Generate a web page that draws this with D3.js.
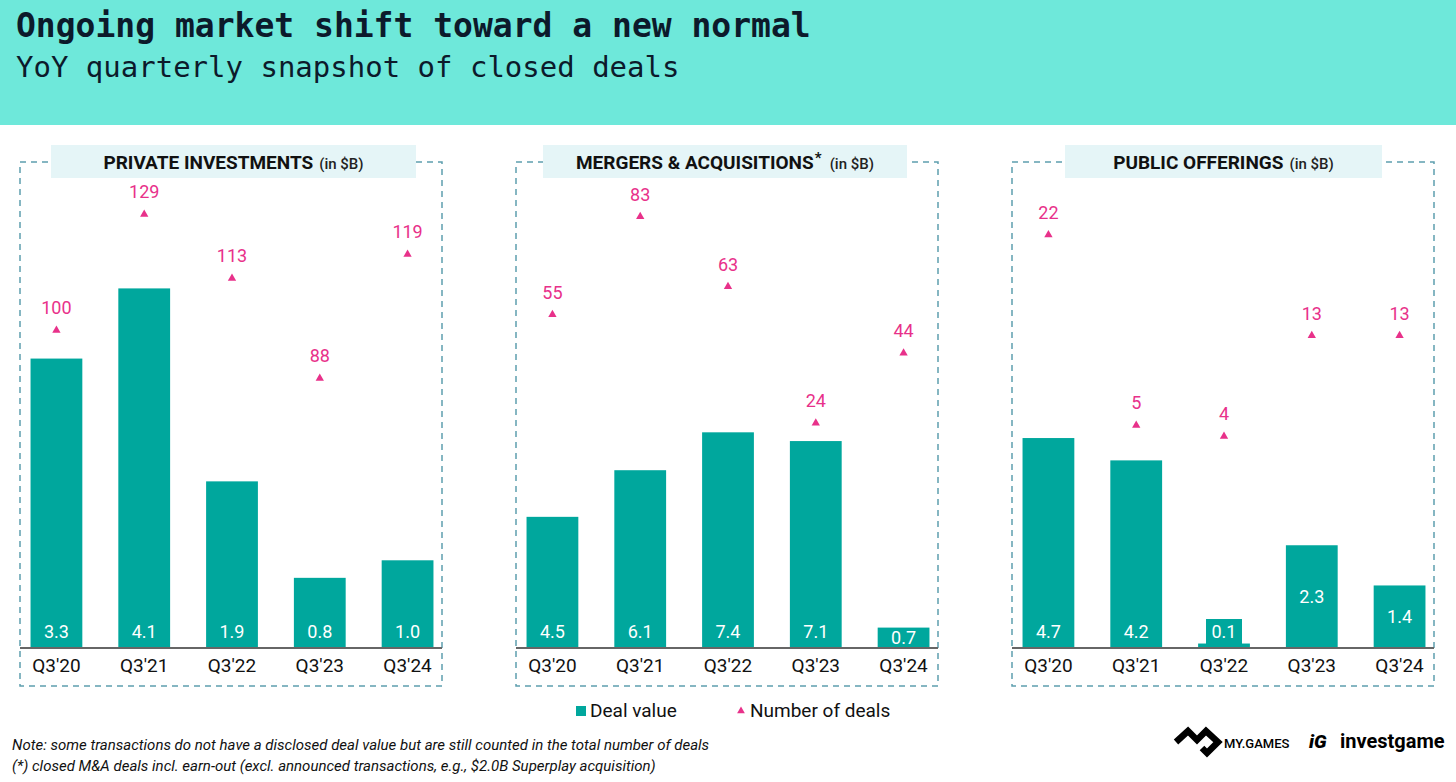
<!DOCTYPE html>
<html lang="en">
<head>
<meta charset="UTF-8">
<title>Ongoing market shift toward a new normal</title>
<style>
  body { margin: 0; background: #fff; }
  svg { display: block; }
</style>
</head>
<body>
<div id="chart"></div>
<script src="https://cdnjs.cloudflare.com/ajax/libs/d3/7.8.5/d3.min.js"></script>
<script>
// ---- data ----
var quarters = ["Q3'20", "Q3'21", "Q3'22", "Q3'23", "Q3'24"];
var panelTitles = ["PRIVATE INVESTMENTS", "MERGERS & ACQUISITIONS", "PUBLIC OFFERINGS"];
var panelStars = [false, true, false];
var privateValue = [3.3, 4.1, 1.9, 0.8, 1.0];
var privateCount = [100, 129, 113, 88, 119];
var maValue = [4.5, 6.1, 7.4, 7.1, 0.7];
var maCount = [55, 83, 63, 24, 44];
var publicValue = [4.7, 4.2, 0.1, 2.3, 1.4];
var publicCount = [22, 5, 4, 13, 13];
// scale domains per panel (each panel has its own implicit axis)
var valueDomains = [[0, 5.45], [0, 16.4], [0, 10.7]];
var countDomains = [[20.6, 140.1], [-40.3, 96.3], [-14.9, 27.8]];
var legendLabels = ["Deal value", "Number of deals"];
var notes = [
  "Note: some transactions do not have a disclosed deal value but are still counted in the total number of deals",
  "(*) closed M&A deals incl. earn-out (excl. announced transactions, e.g., $2.0B Superplay acquisition)"
];

var values = [privateValue, maValue, publicValue];
var counts = [privateCount, maCount, publicCount];

// ---- layout ----
var W = 1456, H = 782;
var TEAL = '#00a79d', PINK = '#e8318a';
var panelLeft = [20, 516, 1012], panelW = 422;
var headerBox = [[31, 396], [27, 391], [53, 370]]; // relative to panel left
var boxTop = 162, boxBottom = 686, axisY = 648, plotTop = 170;
var midLabels = [false, false, true];

var svg = d3.select('#chart').append('svg')
    .attr('width', W)
    .attr('height', H);

// header band
svg.append('rect').attr('width', W).attr('height', 125).attr('fill', '#6ee8da');
svg.append('text')
    .attr('x', 16).attr('y', 37)
    .attr('font-family', 'DejaVu Sans Mono, monospace')
    .attr('font-weight', 'bold')
    .attr('font-size', 33)
    .attr('fill', '#0c1a2b')
    .text('Ongoing market shift toward a new normal');
svg.append('text')
    .attr('x', 16).attr('y', 77)
    .attr('font-family', 'DejaVu Sans Mono, monospace')
    .attr('font-size', 29)
    .attr('fill', '#0c1a2b')
    .text('YoY quarterly snapshot of closed deals');

var triangle = d3.symbol().type(d3.symbolTriangle).size(30);

panelTitles.forEach(function (title, i) {
    var x0 = panelLeft[i];
    var g = svg.append('g');

    var x = d3.scaleBand()
        .domain(quarters)
        .range([x0, x0 + 424])
        .paddingInner(0.41)
        .paddingOuter(0.12);
    var y = d3.scaleLinear().domain(valueDomains[i]).range([axisY, plotTop]);
    var yc = d3.scaleLinear().domain(countDomains[i]).range([axisY, plotTop]);

    // dashed frame
    g.append('rect')
        .attr('x', x0).attr('y', boxTop)
        .attr('width', panelW).attr('height', boxBottom - boxTop)
        .attr('fill', 'none')
        .attr('stroke', '#5e9fae')
        .attr('stroke-width', 1.5)
        .attr('stroke-dasharray', '6,5');

    // header box
    var hb = headerBox[i];
    g.append('rect')
        .attr('x', x0 + hb[0]).attr('y', 145)
        .attr('width', hb[1] - hb[0]).attr('height', 33)
        .attr('fill', '#e5f5f7');

    var head = g.append('g');
    var main = head.append('text')
        .attr('y', 169)
        .attr('font-family', 'Roboto, sans-serif')
        .attr('font-weight', 'bold')
        .attr('font-size', 19)
        .attr('fill', '#111')
        .text(title);
    var cursor = main.node().getComputedTextLength();
    if (panelStars[i]) {
        head.append('text')
            .attr('x', cursor + 1).attr('y', 163)
            .attr('font-family', 'Roboto, sans-serif')
            .attr('font-weight', 'bold')
            .attr('font-size', 15)
            .attr('fill', '#111')
            .text('*');
        cursor += 10;
    }
    var unit = head.append('text')
        .attr('x', cursor + 6).attr('y', 169)
        .attr('font-family', 'Roboto, sans-serif')
        .attr('font-weight', 500)
        .attr('font-size', 15)
        .attr('fill', '#222')
        .text('(in $B)');
    var total = cursor + 6 + unit.node().getComputedTextLength();
    var cx = x0 + (hb[0] + hb[1]) / 2;
    head.attr('transform', 'translate(' + (cx - total / 2) + ',0)');

    // bars
    var rows = quarters.map(function (q, j) {
        return { q: q, v: values[i][j], c: counts[i][j] };
    });

    g.selectAll('.bar').data(rows).enter().append('rect')
        .attr('x', function (d) { return x(d.q); })
        .attr('y', function (d) { return y(d.v); })
        .attr('width', x.bandwidth())
        .attr('height', function (d) { return axisY - y(d.v); })
        .attr('fill', TEAL);

    // label position inside bar
    function labelCenter(d) {
        var h = axisY - y(d.v);
        if (h >= 10 && h < 34) return axisY - h / 2;
        if (midLabels[i] && h / 2 > 16 && h / 2 < 60) return axisY - h / 2;
        return axisY - 17;
    }

    // background tab for very short bars
    g.selectAll('.tab').data(rows.filter(function (d) { return axisY - y(d.v) < 10; }))
        .enter().append('rect')
        .attr('x', function (d) { return x(d.q) + x.bandwidth() / 2 - 18; })
        .attr('y', axisY - 29)
        .attr('width', 36).attr('height', 29)
        .attr('fill', TEAL);

    g.selectAll('.val').data(rows).enter().append('text')
        .attr('x', function (d) { return x(d.q) + x.bandwidth() / 2; })
        .attr('y', function (d) { return labelCenter(d) + 6.5; })
        .attr('text-anchor', 'middle')
        .attr('font-family', 'Roboto, sans-serif')
        .attr('font-size', 18)
        .attr('fill', '#fff')
        .text(function (d) { return d.v.toFixed(1); });

    // axis line
    g.append('line')
        .attr('x1', x0).attr('x2', x0 + panelW)
        .attr('y1', axisY).attr('y2', axisY)
        .attr('stroke', '#666')
        .attr('stroke-width', 2);

    var axis = d3.axisBottom(x).tickSize(0).tickPadding(0);
    var ax = g.append('g')
        .attr('transform', 'translate(0,' + (axisY + 10) + ')')
        .call(axis);
    ax.select('.domain').remove();
    ax.selectAll('text')
        .attr('dy', '0.71em')
        .attr('font-family', 'Roboto, sans-serif')
        .attr('font-size', 19)
        .attr('fill', '#111');

    // number of deals
    g.selectAll('.tri').data(rows).enter().append('path')
        .attr('d', triangle)
        .attr('transform', function (d) {
            return 'translate(' + (x(d.q) + x.bandwidth() / 2) + ',' + yc(d.c) + ')';
        })
        .attr('fill', PINK);
    g.selectAll('.cnt').data(rows).enter().append('text')
        .attr('x', function (d) { return x(d.q) + x.bandwidth() / 2; })
        .attr('y', function (d) { return yc(d.c) - 16; })
        .attr('text-anchor', 'middle')
        .attr('font-family', 'Roboto, sans-serif')
        .attr('font-size', 18)
        .attr('fill', PINK)
        .text(function (d) { return d.c; });
});

// legend
var lg = svg.append('g');
lg.append('rect').attr('x', 576).attr('y', 706).attr('width', 10).attr('height', 10).attr('fill', TEAL);
lg.append('text').attr('x', 590).attr('y', 717)
    .attr('font-family', 'Roboto, sans-serif').attr('font-size', 19).attr('fill', '#111')
    .text(legendLabels[0]);
lg.append('path').attr('d', d3.symbol().type(d3.symbolTriangle).size(26))
    .attr('transform', 'translate(741,711)').attr('fill', PINK);
lg.append('text').attr('x', 750).attr('y', 717)
    .attr('font-family', 'Roboto, sans-serif').attr('font-size', 19).attr('fill', '#111')
    .text(legendLabels[1]);

// notes
svg.selectAll('.note').data(notes).enter().append('text')
    .attr('x', 12)
    .attr('y', function (d, i) { return 750 + i * 21; })
    .attr('font-family', 'Roboto, sans-serif')
    .attr('font-style', 'italic')
    .attr('font-size', 15)
    .attr('fill', '#111')
    .text(function (d) { return d; });

// logos
var logo = svg.append('g');
logo.append('path')
    .attr('d', 'M1176,742 L1188,731 L1197,740 L1206,731 L1218,742 L1207,753 L1202,748')
    .attr('fill', 'none').attr('stroke', '#000').attr('stroke-width', 6.5)
    .attr('stroke-linejoin', 'miter');
logo.append('text').attr('x', 1224).attr('y', 748)
    .attr('font-family', 'Roboto, sans-serif').attr('font-weight', 500).attr('font-size', 13)
    .attr('fill', '#000').text('MY.GAMES');
logo.append('text').attr('x', 1309).attr('y', 748)
    .attr('font-family', 'Roboto, sans-serif').attr('font-weight', 900).attr('font-style', 'italic')
    .attr('font-size', 19).attr('fill', '#000').text('iG');
logo.append('text').attr('x', 1340).attr('y', 748)
    .attr('font-family', 'Roboto, sans-serif').attr('font-weight', 'bold').attr('font-size', 20)
    .attr('fill', '#000').text('investgame');
</script>
</body>
</html>
